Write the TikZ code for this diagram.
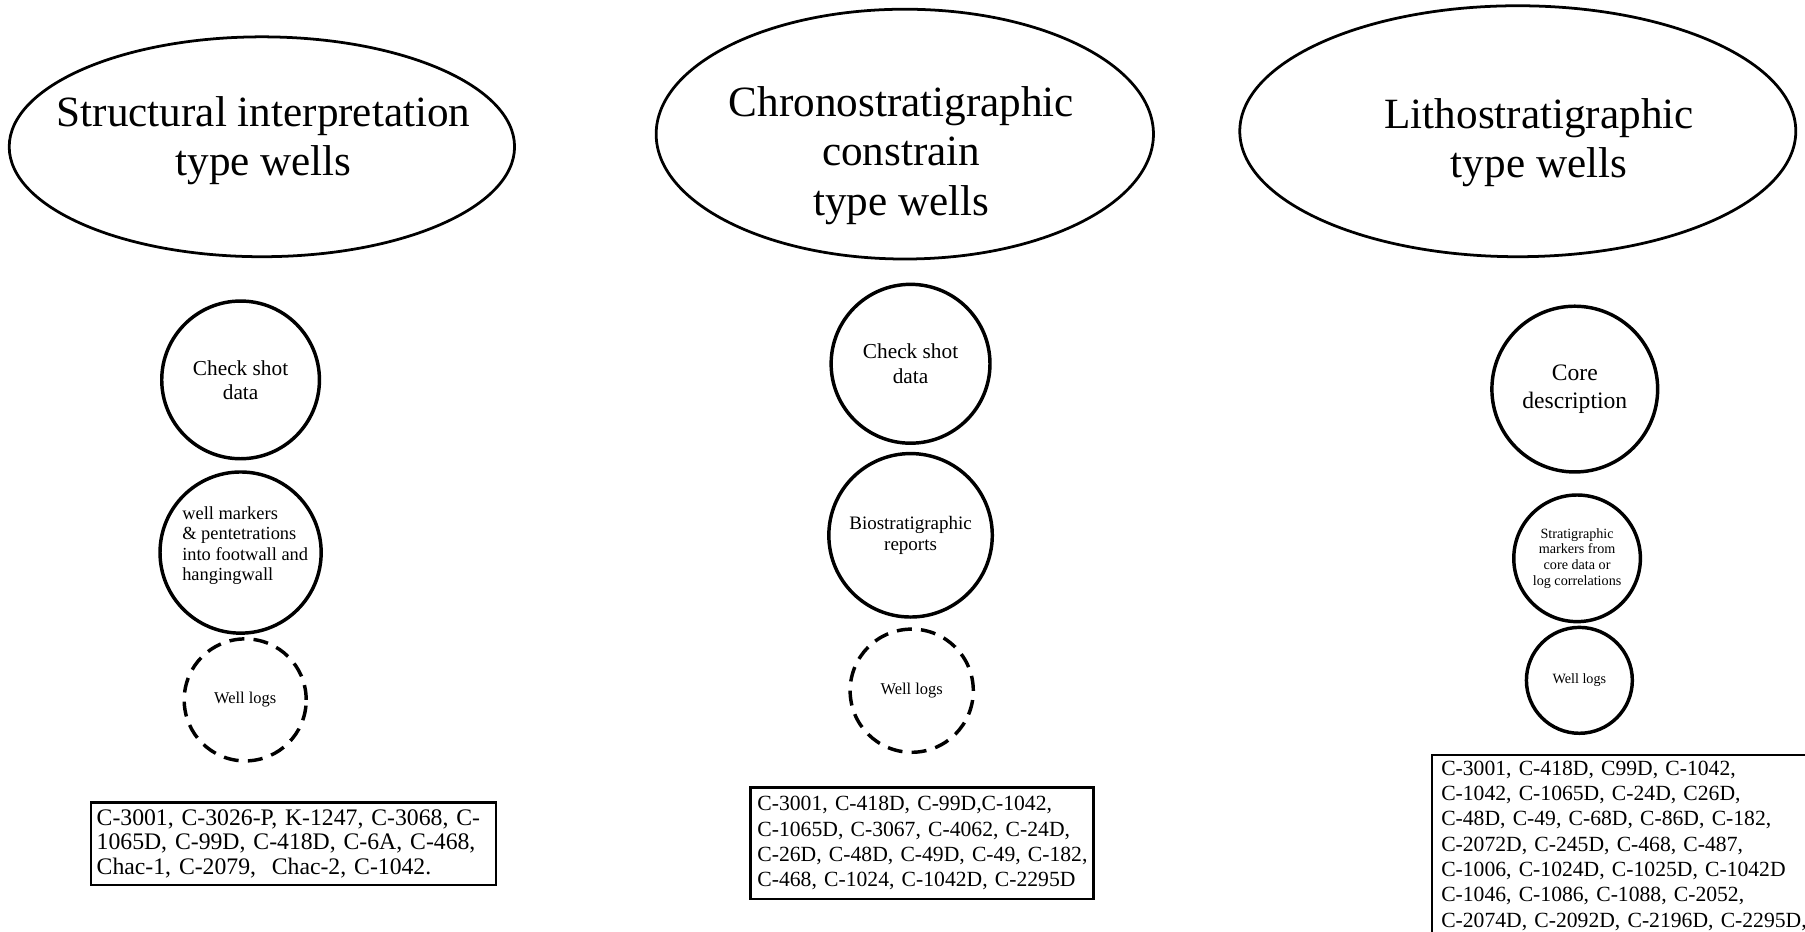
\documentclass[tikz,border=0pt]{standalone}
\usepackage{fontspec}
\setmainfont{Liberation Serif}
\usetikzlibrary{shapes.geometric}
\begin{document}
\begin{tikzpicture}[x=1pt,y=-1pt,
  bigell/.style={draw, ellipse, line width=2.4pt, inner sep=0pt},
  titletext/.style={align=center, inner sep=0pt, font=\fontsize{37.5}{43}\selectfont},
  circ/.style={draw, circle, line width=3pt, inner sep=0pt, align=center},
  dcirc/.style={circ, dash pattern=on 13pt off 8pt},
  listbox/.style={draw, rectangle, line width=2pt, anchor=north west, align=left,
    inner ysep=5pt, font=\fontsize{18.8}{22}\selectfont}
]
\useasboundingbox (0,0) rectangle (1568,809);
\clip (0,0) rectangle (1568,809);

% header ellipses
\node[bigell, minimum width=439pt, minimum height=191pt] (e1) at (227.5,127.5) {};
\node[titletext] (t1) at (229,122) {Structural interpretation\\type wells};
\node[bigell, minimum width=432pt, minimum height=217pt] (e2) at (786,116.5) {};
\node[titletext] (t2) at (783,135) {Chronostratigraphic\\constrain\\type wells};
\node[bigell, minimum width=483pt, minimum height=218pt] (e3) at (1318.5,114) {};
\node[titletext] (t3) at (1337,124) {Lithostratigraphic\\type wells};

% column 1
\node[circ, minimum size=137pt, font=\fontsize{18.5}{21}\selectfont] (c11) at (209,330) {Check shot\\data};
\node[circ, minimum size=140pt, align=left, font=\fontsize{16}{17.5}\selectfont] (c12) at (209,480) {};
\node[align=left, inner sep=0pt, font=\fontsize{16}{17.5}\selectfont] (c12t) at (213,474) {well markers\\\& pentetrations\\into footwall and\\hangingwall};
\node[dcirc, minimum size=106pt, font=\fontsize{14.3}{16}\selectfont] (c13) at (213,608) {Well logs};
\node[listbox, text width=342pt, inner xsep=5pt, minimum height=72pt, font=\fontsize{20.6}{21}\selectfont] (b1) at (78,696)
  {\mbox{C-3001, C-3026-P, K-1247, C-3068, C-}\\\mbox{1065D, C-99D, C-418D, C-6A, C-468,}\\\mbox{Chac-1, C-2079,\ \ Chac-2, C-1042.}};

% column 2
\node[circ, minimum size=138pt, font=\fontsize{18.5}{21}\selectfont] (c21) at (791,316) {Check shot\\data};
\node[circ, minimum size=142pt, font=\fontsize{16.5}{18}\selectfont] (c22) at (791,465) {Biostratigraphic\\reports};
\node[dcirc, minimum size=107pt, font=\fontsize{14.3}{16}\selectfont] (c23) at (792,600) {Well logs};
\node[listbox, text width=286pt, inner xsep=6pt, minimum height=97pt] (b2) at (651,683)
  {\mbox{C-3001, C-418D, C-99D,C-1042,}\\\mbox{C-1065D, C-3067, C-4062, C-24D,}\\\mbox{C-26D, C-48D, C-49D, C-49, C-182,}\\\mbox{C-468, C-1024, C-1042D, C-2295D}};

% column 3
\node[circ, minimum size=144pt, font=\fontsize{20.5}{24}\selectfont] (c31) at (1368,338) {Core\\description};
\node[circ, minimum size=110pt, font=\fontsize{12.3}{13.5}\selectfont] (c32) at (1370,485) {Stratigraphic\\markers from\\core data or\\log correlations};
\node[circ, minimum size=92pt, font=\fontsize{12.3}{14}\selectfont] (c33) at (1372,591) {Well logs};
\node[listbox, text width=400pt, inner xsep=8pt] (b3) at (1243,655)
  {\mbox{C-3001, C-418D, C99D, C-1042,}\\\mbox{C-1042, C-1065D, C-24D, C26D,}\\\mbox{C-48D, C-49, C-68D, C-86D, C-182,}\\\mbox{C-2072D, C-245D, C-468, C-487,}\\\mbox{C-1006, C-1024D, C-1025D, C-1042D}\\\mbox{C-1046, C-1086, C-1088, C-2052,}\\\mbox{C-2074D, C-2092D, C-2196D, C-2295D,}};
\end{tikzpicture}
\end{document}
